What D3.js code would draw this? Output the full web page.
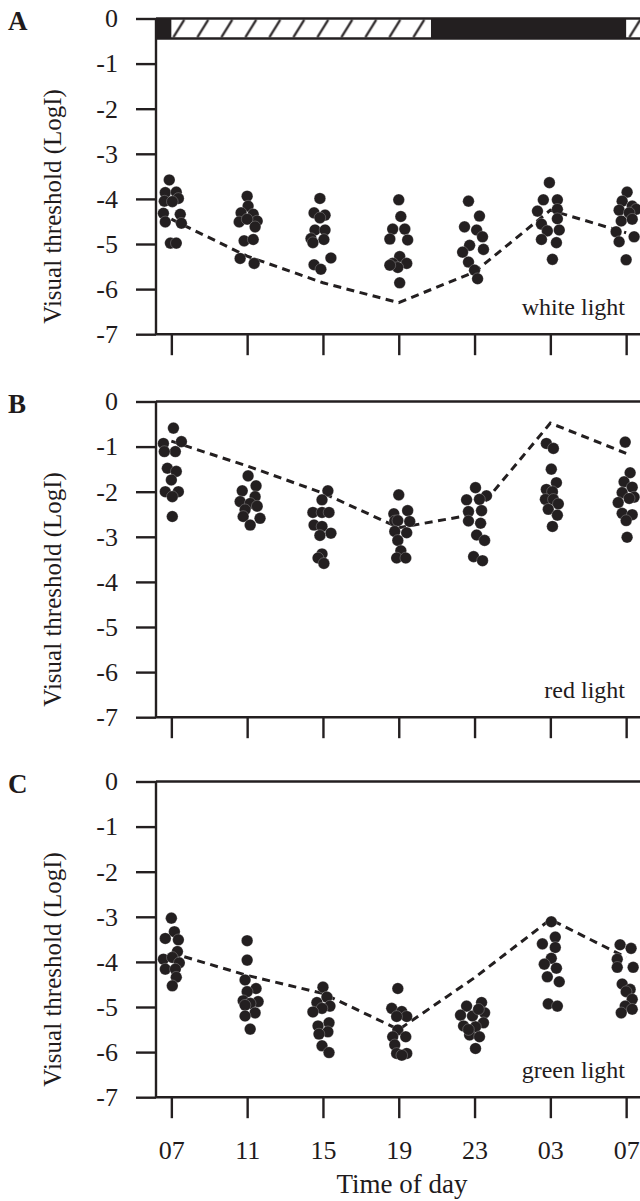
<!DOCTYPE html>
<html>
<head>
<meta charset="utf-8">
<style>
	body { margin: 0; background: #fff; }
	svg text { font-family: "Liberation Serif", "Times New Roman", serif; fill: #1f1b1c; }
	.spine { stroke: #231f20; stroke-width: 2.4; fill: none; }
	.axis .domain { display: none; }
	.axis line { stroke: #231f20; stroke-width: 2.4; }
	.axis text { font-size: 26px; }
	.mean-line { stroke: #231f20; stroke-width: 3; fill: none; stroke-dasharray: 8 5.5; }
	.dot { fill: #231f20; stroke: #fff; stroke-width: 0.4; stroke-opacity: 0.6; }
	.light-label { font-size: 24px; text-anchor: end; }
	.panel-letter { font-size: 27px; font-weight: 700; }
	.y-title { font-size: 25px; text-anchor: middle; }
	.x-title { font-size: 27px; text-anchor: middle; }
</style>
</head>
<body>
<div class="vis-threshold"></div>
<script src="https://cdn.jsdelivr.net/npm/d3@7"></script>
<script>

	// Data //
	// ---- //

	// hours after the first 07:00 sample, and the clock labels
	const hours = [0, 4, 8, 12, 16, 20, 24];
	const tickLabels = ["07", "11", "15", "19", "23", "03", "07"];
	const yTicks = [0, -1, -2, -3, -4, -5, -6, -7];

	// light schedule (hours after 07:00)
	const lightOn = [0, 24];
	const lightOff = [13.7, 37.7];

	const panelLetters = ["A", "B", "C"];
	const lightNames = ["white light", "red light", "green light"];

	// dashed line, one value per time point
	const whiteMean = [-4.45, -5.27, -5.86, -6.30, -5.62, -4.25, -4.75];
	const redMean   = [-0.88, -1.43, -2.03, -2.80, -2.50, -0.48, -1.15];
	const greenMean = [-3.80, -4.30, -4.70, -5.50, -4.35, -3.06, -3.90];

	// individual animals: [horizontal spread in hours, threshold]
	const whiteDots = [
		[[-0.11,-3.58],[-0.32,-3.86],[0.26,-3.85],[-0.37,-4.05],[0.37,-3.99],[0.05,-4.06],[-0.42,-4.32],[0.47,-4.34],[-0.32,-4.51],[0.53,-4.54],[-0.05,-4.98],[0.26,-4.98]],
		[[0,-3.94],[0.05,-4.16],[-0.32,-4.31],[0.32,-4.34],[-0.42,-4.51],[0.53,-4.49],[0,-4.45],[0.42,-4.62],[-0.16,-4.93],[0.32,-4.90],[-0.37,-5.32],[0.37,-5.43]],
		[[-0.16,-3.99],[-0.47,-4.31],[0.11,-4.36],[-0.16,-4.42],[-0.42,-4.69],[0.11,-4.69],[-0.63,-4.88],[0.05,-4.90],[-0.53,-4.97],[0.42,-5.31],[-0.47,-5.46],[-0.11,-5.56]],
		[[0,-4.02],[0.11,-4.39],[-0.32,-4.67],[0.32,-4.67],[0.47,-4.91],[-0.47,-4.89],[0.05,-5.28],[-0.32,-5.43],[0.42,-5.43],[-0.05,-5.52],[0.05,-5.86],[-0.47,-5.47]],
		[[-0.32,-4.05],[0.26,-4.38],[-0.53,-4.62],[0.11,-4.69],[0.42,-4.84],[-0.26,-5.03],[0.47,-5.12],[-0.63,-5.18],[-0.32,-5.40],[0,-5.58],[0.16,-5.77]],
		[[-0.05,-3.64],[-0.37,-4.02],[0.37,-4.02],[-0.68,-4.27],[0.37,-4.23],[0.37,-4.44],[-0.47,-4.56],[0.47,-4.69],[-0.16,-4.71],[-0.47,-4.90],[0.32,-4.97],[0.11,-5.34]],
		[[0.05,-3.85],[-0.21,-4.05],[0.32,-4.16],[-0.37,-4.25],[0.53,-4.23],[0.16,-4.31],[-0.26,-4.49],[0.32,-4.45],[-0.53,-4.73],[0.42,-4.84],[-0.37,-4.95],[0,-5.35]]
	];
	const redDots = [
		[[0.11,-0.59],[-0.42,-0.93],[0.53,-0.89],[0.21,-1.11],[-0.37,-1.11],[-0.21,-1.48],[0.26,-1.55],[0,-1.74],[-0.32,-2.00],[0.37,-2.00],[0.05,-2.11],[0.05,-2.55]],
		[[0.05,-1.65],[0.47,-1.87],[-0.26,-1.98],[0.42,-2.11],[-0.37,-2.22],[0.16,-2.26],[0.53,-2.32],[-0.11,-2.40],[-0.21,-2.55],[0.68,-2.59],[0.16,-2.74]],
		[[0.26,-1.98],[-0.05,-2.18],[-0.53,-2.46],[-0.05,-2.46],[0.32,-2.46],[-0.47,-2.74],[-0.05,-2.77],[0.42,-2.92],[-0.16,-2.97],[-0.05,-3.38],[-0.26,-3.47],[0.05,-3.59]],
		[[0,-2.07],[0.47,-2.42],[-0.26,-2.49],[-0.21,-2.65],[-0.05,-2.64],[0.58,-2.66],[-0.21,-2.88],[0.42,-2.91],[-0.05,-3.08],[0.11,-3.31],[-0.11,-3.47],[0.37,-3.47]],
		[[0.05,-1.91],[0.63,-2.09],[-0.42,-2.18],[0.26,-2.17],[0.37,-2.42],[-0.32,-2.44],[-0.32,-2.65],[0.32,-2.70],[0.11,-2.96],[0.53,-3.08],[-0.05,-3.44],[0.42,-3.53]],
		[[-0.21,-0.93],[0.16,-1.04],[0.05,-1.50],[0.32,-1.80],[-0.21,-1.95],[0.11,-2.00],[-0.26,-2.17],[0.16,-2.17],[0.42,-2.27],[-0.11,-2.39],[0.37,-2.52],[0.11,-2.77]],
		[[-0.05,-0.90],[0.21,-1.58],[-0.11,-1.78],[0.32,-1.90],[-0.21,-2.02],[0.42,-2.12],[0.16,-2.15],[-0.42,-2.24],[-0.21,-2.48],[0.32,-2.51],[0,-2.64],[0.05,-3.01]]
	];
	const greenDots = [
		[[0,-3.03],[0.16,-3.33],[-0.32,-3.48],[0.37,-3.51],[0.32,-3.77],[-0.42,-3.94],[0.05,-3.90],[0.42,-4.02],[-0.32,-4.16],[0.21,-4.16],[0.26,-4.34],[0.05,-4.53]],
		[[0,-3.53],[0,-3.96],[-0.11,-4.40],[0.47,-4.59],[0,-4.66],[-0.21,-4.86],[0.58,-4.88],[0.16,-4.92],[-0.11,-4.96],[0.42,-5.13],[-0.11,-5.20],[0.16,-5.49]],
		[[0,-4.56],[0.21,-4.78],[-0.32,-4.90],[0.37,-4.98],[-0.05,-5.03],[-0.53,-5.11],[0.32,-5.35],[-0.26,-5.42],[0.26,-5.55],[-0.21,-5.60],[-0.05,-5.86],[0.32,-6.01]],
		[[-0.05,-4.59],[-0.37,-5.03],[0.16,-5.10],[0.42,-5.21],[-0.11,-5.21],[-0.05,-5.51],[0.37,-5.66],[-0.32,-5.66],[-0.21,-5.84],[0.42,-6.03],[-0.11,-6.03],[0.16,-6.07]],
		[[0.37,-4.90],[-0.42,-4.98],[0.53,-5.13],[-0.74,-5.18],[-0.11,-5.20],[0.47,-5.35],[-0.58,-5.42],[0.05,-5.44],[-0.26,-5.62],[0.26,-5.66],[0.05,-5.92],[0.21,-5.05],[-0.32,-5.50]],
		[[0.05,-3.11],[0.26,-3.45],[-0.42,-3.60],[0.26,-3.68],[0.05,-3.92],[-0.32,-4.05],[0.32,-4.14],[-0.16,-4.33],[0.47,-4.44],[-0.11,-4.93],[0.37,-4.98]],
		[[-0.32,-3.62],[0.26,-3.70],[-0.47,-3.94],[-0.47,-4.12],[0.37,-4.12],[-0.21,-4.49],[0.21,-4.61],[0,-4.66],[0.32,-4.83],[-0.05,-4.98],[0.32,-5.05],[-0.26,-5.13]]
	];

	const means = [whiteMean, redMean, greenMean];
	const dots = [whiteDots, redDots, greenDots];

	// Setup //
	// ----- //

	const width = 640, height = 1201;
	const axisX = 156;
	const panelTop = [18.5, 401.5, 781.5];
	const plotH = 315.7;
	const barH = 20;

	const x = d3.scaleLinear()
		.domain([-0.81, 26])
		.range([axisX, axisX + 26.81 * 18.95]);
	const xEnd = x.range()[1];

	const svg = d3.select(".vis-threshold")
		.append("svg")
			.attr("width", width)
			.attr("height", height);

	const defs = svg.append("defs");
	const hatch = defs.append("pattern")
		.attr("id", "hatch")
		.attr("patternUnits", "userSpaceOnUse")
		.attr("width", 24)
		.attr("height", barH)
		.attr("patternTransform", "translate(" + (x(0) + 1) + "," + panelTop[0] + ")");
	hatch.append("rect")
		.attr("width", 24).attr("height", barH)
		.attr("fill", "#fff");
	hatch.append("line")
		.attr("x1", 1).attr("y1", barH - 1.2)
		.attr("x2", 12).attr("y2", 1.2)
		.attr("stroke", "#2a2627")
		.attr("stroke-width", 2.2);

	panelTop.forEach((top, i) => drawPanel(i, top));

	// X TITLE
	svg.append("text")
		.attr("class", "x-title")
		.attr("x", 402)
		.attr("y", 1193)
		.text("Time of day");

	function drawPanel(i, top) {
		const y = d3.scaleLinear().domain([0, -7]).range([top, top + plotH]);
		const g = svg.append("g");

		// light/dark bar on top of the first panel
		if (i === 0) {
			g.append("rect")
				.attr("x", axisX)
				.attr("y", top)
				.attr("width", xEnd - axisX)
				.attr("height", barH)
				.attr("fill", "#231f20");
			g.selectAll(".light")
				.data(d3.zip(lightOn, lightOff)).enter().append("rect")
				.attr("class", "light")
				.attr("x", d => x(Math.max(d[0], x.domain()[0])))
				.attr("y", top)
				.attr("width", d => x(Math.min(d[1], x.domain()[1])) - x(Math.max(d[0], x.domain()[0])))
				.attr("height", barH)
				.attr("fill", "url(#hatch)");
			g.append("line")
				.attr("class", "spine")
				.attr("x1", axisX).attr("x2", xEnd)
				.attr("y1", top + barH).attr("y2", top + barH);
		}

		// Y-AXIS
		g.append("g")
			.attr("class", "axis")
			.attr("transform", "translate(" + axisX + ",0)")
			.call(d3.axisLeft(y)
				.tickValues(yTicks)
				.tickSize(20)
				.tickPadding(18)
				.tickFormat(d => d === 0 ? "0" : "-" + Math.abs(d)));

		// X-AXIS (ticks below the panel, labels only on the last one)
		g.append("g")
			.attr("class", "axis")
			.attr("transform", "translate(0," + (top + plotH) + ")")
			.call(d3.axisBottom(x)
				.tickValues(hours)
				.tickSize(21)
				.tickPadding(22)
				.tickFormat((d, k) => i === 2 ? tickLabels[k] : ""));

		// spines
		g.append("line").attr("class", "spine")
			.attr("x1", axisX).attr("x2", axisX)
			.attr("y1", top).attr("y2", top + plotH);
		g.append("line").attr("class", "spine")
			.attr("x1", axisX).attr("x2", xEnd)
			.attr("y1", top + plotH).attr("y2", top + plotH);
		g.append("line").attr("class", "spine")
			.attr("x1", axisX).attr("x2", xEnd)
			.attr("y1", top).attr("y2", top);

		// DASHED LINE
		const valueline = d3.line()
			.x(d => x(d[0]))
			.y(d => y(d[1]));
		g.append("path")
			.datum(d3.zip(hours, means[i]))
			.attr("class", "mean-line")
			.attr("d", valueline);

		// DOTS
		const pts = [];
		dots[i].forEach((grp, k) => grp.forEach(p => pts.push([hours[k] + p[0], p[1]])));
		g.selectAll(".dot")
			.data(pts).enter().append("circle")
			.attr("class", "dot")
			.attr("cx", d => x(d[0]))
			.attr("cy", d => y(d[1]))
			.attr("r", 5.8);

		// LABELS
		g.append("text")
			.attr("class", "light-label")
			.attr("x", 625)
			.attr("y", top + plotH - 19)
			.text(lightNames[i]);
		g.append("text")
			.attr("class", "panel-letter")
			.attr("x", 8)
			.attr("y", top + 11)
			.text(panelLetters[i]);
		g.append("text")
			.attr("class", "y-title")
			.attr("transform", "translate(61," + (top + plotH / 2 + 30) + ") rotate(-90)")
			.text("Visual threshold (LogI)");
	}
</script>
</body>
</html>
